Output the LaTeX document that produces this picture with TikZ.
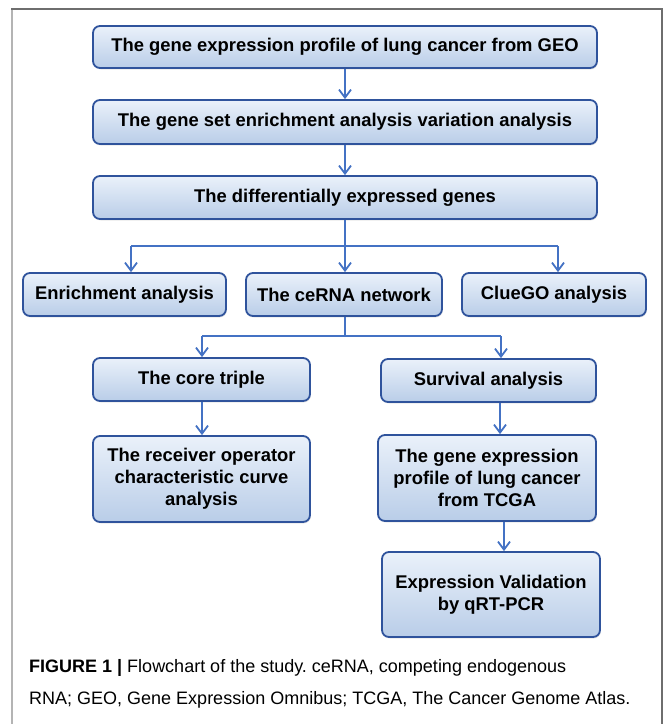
\documentclass[tikz,border=0pt]{standalone}
\usepackage{fontspec}
\setmainfont{Liberation Sans}
\usetikzlibrary{arrows.meta,shadows}
\definecolor{boxline}{HTML}{2F539C}
\definecolor{boxtop}{HTML}{EAF1FA}
\definecolor{boxbot}{HTML}{B9CDE8}
\definecolor{arrowc}{HTML}{4472C4}
\frenchspacing
\begin{document}
\begin{tikzpicture}[x=1pt,y=-1pt,
  flowbox/.style={draw=boxline,line width=1.8pt,rounded corners=7pt,
    top color=boxtop,bottom color=boxbot,align=center,inner sep=0pt,
    font=\bfseries\fontsize{18.4}{22}\selectfont,
    drop shadow={opacity=0.18,shadow xshift=0.8pt,shadow yshift=-1.5pt}},
  conn/.style={draw=arrowc,line width=1.8pt},
  arr/.style={conn,-{Straight Barb[length=8pt,width=12pt,line width=1.8pt]}}
]
\useasboundingbox (0,0) rectangle (663,724);
\fill[white] (0,0) rectangle (663,724);
% frame
\draw[color={rgb,255:red,180;green,180;blue,180},line width=2pt] (12,8.5) -- (12,724);
\draw[color={rgb,255:red,110;green,110;blue,110},line width=2pt] (11,8.5) -- (661.5,8.5) -- (661.5,724);

% boxes
\node[flowbox,minimum width=504pt,minimum height=42pt] (b1) at (345,47) {The gene expression profile of lung cancer from GEO};
\node[flowbox,minimum width=504pt,minimum height=44pt] (b2) at (345,122) {The gene set enrichment analysis variation analysis};
\node[flowbox,minimum width=504pt,minimum height=43pt] (b3) at (345,197.5) {The differentially expressed genes};
\node[flowbox,minimum width=203pt,minimum height=43pt] (enr) at (124.5,294.5) {Enrichment analysis};
\node[flowbox,minimum width=196pt,minimum height=43pt] (cer) at (344,294.5) {The ceRNA network};
\node[flowbox,minimum width=184pt,minimum height=43pt] (clu) at (554,294.5) {ClueGO analysis};
\node[flowbox,minimum width=217pt,minimum height=43pt] (core) at (201.5,379.5) {The core triple};
\node[flowbox,minimum width=215pt,minimum height=43pt] (surv) at (488.5,380.5) {Survival analysis};
\node[flowbox,minimum width=217pt,minimum height=86pt] (roc) at (201.5,479) {The receiver operator\\characteristic curve\\analysis};
\node[flowbox,minimum width=218pt,minimum height=86pt] (tcga) at (487,478) {The gene expression\\profile of lung cancer\\from TCGA};
\node[flowbox,minimum width=218pt,minimum height=85pt] (qpcr) at (491,594.5) {Expression Validation\\by qRT-PCR};

% connectors
\draw[arr] (b1) -- (b2);
\draw[arr] (b2) -- (b3);
\coordinate (j1) at (345,246);
\coordinate (j1l) at (131,246);
\coordinate (j1r) at (558,246);
\draw[conn] (b3.south) -- (j1);
\draw[conn] (j1l) -- (j1r);
\draw[arr] (j1l) -- (j1l |- enr.north);
\draw[arr] (j1) -- (j1 |- cer.north);
\draw[arr] (j1r) -- (j1r |- clu.north);
\coordinate (j2) at (345,336);
\coordinate (j2l) at (202,336);
\coordinate (j2r) at (501,336);
\draw[conn] (cer.south -| j2) -- (j2);
\draw[conn] (j2l) -- (j2r);
\draw[arr] (j2l) -- (j2l |- core.north);
\draw[arr] (j2r) -- (j2r |- surv.north);
\coordinate (c1) at (202,0);
\coordinate (c2) at (500,0);
\coordinate (c3) at (504,0);
\draw[arr] (c1 |- core.south) -- (c1 |- roc.north);
\draw[arr] (c2 |- surv.south) -- (c2 |- tcga.north);
\draw[arr] (c3 |- tcga.south) -- (c3 |- qpcr.north);

% caption
\node[anchor=base west,align=left,inner sep=0pt,font=\fontsize{18}{32}\selectfont] (cap) at (29,704)
  {\textbf{FIGURE 1 |} Flowchart of the study. ceRNA, competing endogenous\\RNA; GEO, Gene Expression Omnibus; TCGA, The Cancer Genome Atlas.};
\end{tikzpicture}
\end{document}
